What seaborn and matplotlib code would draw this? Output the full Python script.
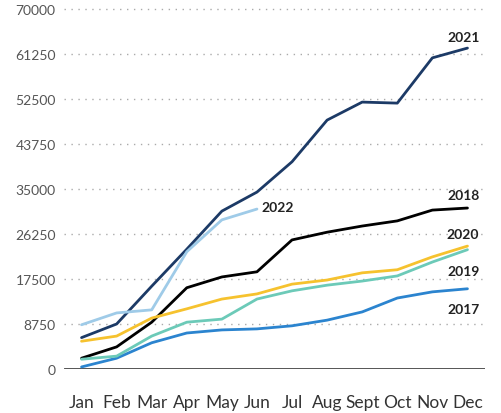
import pandas as pd
import seaborn as sns
import matplotlib.pyplot as plt

# data
months = ["Jan", "Feb", "Mar", "Apr", "May", "Jun", "Jul", "Aug", "Sept", "Oct", "Nov", "Dec"]
y2017 = [400, 2100, 5100, 7000, 7600, 7800, 8400, 9500, 11100, 13800, 15000, 15600]
y2018 = [2100, 4300, 9100, 15800, 17900, 18900, 25100, 26600, 27800, 28800, 30900, 31300]
y2019 = [1900, 2500, 6400, 9100, 9700, 13600, 15200, 16300, 17100, 18100, 20800, 23200]
y2020 = [5400, 6400, 9900, 11700, 13600, 14600, 16500, 17300, 18700, 19300, 21800, 23900]
y2021 = [6100, 8750, 16100, 23300, 30700, 34400, 40300, 48400, 51900, 51700, 60500, 62400]
y2022 = [8600, 10900, 11500, 22800, 29000, 31100]
yticks = [0, 8750, 17500, 26250, 35000, 43750, 52500, 61250, 70000]

colors = {
    "2017": "#2b84cf",
    "2018": "#000000",
    "2019": "#6ccab8",
    "2020": "#f6c22e",
    "2021": "#1c3a66",
    "2022": "#9fcbe8",
}

series = {"2017": y2017, "2018": y2018, "2019": y2019,
          "2020": y2020, "2021": y2021, "2022": y2022}

rows = []
for year, vals in series.items():
    for i, v in enumerate(vals):
        rows.append({"pos": i, "month": months[i], "year": year, "value": v})
df = pd.DataFrame(rows)

sns.set_style("white")
plt.rcParams["font.family"] = ["Lato", "DejaVu Sans"]

fig = plt.figure(figsize=(5.01, 4.14), dpi=100)
ax = fig.add_axes([64 / 501, 44 / 414, 421 / 501, 360 / 414])

sns.lineplot(data=df, x="pos", y="value", hue="year", palette=colors,
             linewidth=2, legend=False, ax=ax)

ax.set_xlim(-0.5, 11.5)
ax.set_ylim(0, 70000)
ax.set_xticks(range(12))
ax.set_xticklabels(months)
ax.set_yticks(yticks)
ax.set_yticklabels([str(t) for t in yticks])
ax.set_xlabel("")
ax.set_ylabel("")

for t in yticks[1:]:
    ax.axhline(t, color="#aaaaaa", linestyle=(0, (1, 4)), linewidth=1, zorder=0, clip_on=False)
ax.axhline(0, color="#222222", linewidth=1.8, zorder=1)

for s in ax.spines.values():
    s.set_visible(False)

ax.tick_params(axis="x", length=0, pad=18, labelsize=12.5, labelcolor="#333333")
ax.tick_params(axis="y", length=0, pad=6, labelsize=10, labelcolor="#555555")

# year labels
labels = [("2021", 11.34, 64600, "right"), ("2018", 11.34, 33800, "right"),
          ("2020", 11.34, 26200, "right"), ("2019", 11.34, 19000, "right"),
          ("2017", 11.34, 11700, "right"), ("2022", 5.14, 31500, "left")]
for txt, x, y, ha in labels:
    ax.text(x, y, txt, ha=ha, va="center", fontsize=10, fontweight="bold", color="#222222")

fig.savefig("out.png", dpi=100)
